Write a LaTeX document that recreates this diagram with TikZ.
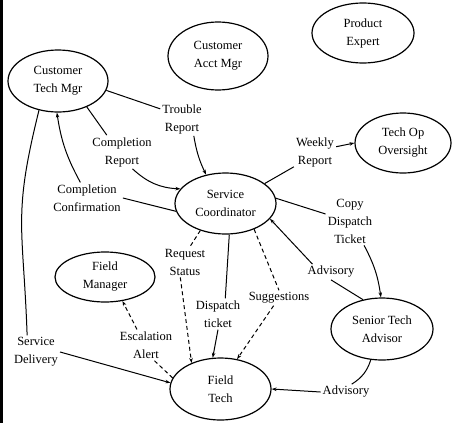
\documentclass[tikz,border=0pt]{standalone}
\usepackage{fontspec}
\setmainfont{Liberation Serif}
\usepackage{tikz}
\usetikzlibrary{shapes,arrows.meta}
\tikzset{
	role/.style      = {draw, ellipse, line width=1.2pt, inner sep=0pt, align=center},
	flowlabel/.style = {align=center, inner sep=2pt},
	msg/.style       = {line width=1pt},
	msgarrow/.style  = {-{Stealth[length=5pt,width=3.5pt]}},
	weak/.style      = {dash pattern=on 4pt off 3pt}
}

\begin{document}
\begin{tikzpicture}[x=1pt, y=-1pt, font=\fontsize{12.5}{18}\selectfont]
	\useasboundingbox (0,0) rectangle (454,423);
	\draw[line width=2.5pt] (1.25,0) -- (1.25,423);

	% roles
	\draw
	node at (58,81)    [role, minimum width=100, minimum height=62] (ctm) {Customer\\Tech Mgr}
	node at (218,56)   [role, minimum width=100, minimum height=68] (cam) {Customer\\Acct Mgr}
	node at (363,33)   [role, minimum width=102, minimum height=60] (pe)  {Product\\Expert}
	node at (403,143)  [role, minimum width=96,  minimum height=60] (too) {Tech Op\\Oversight}
	node at (225.5,203.5) [role, minimum width=101, minimum height=61] (sc) {Service\\Coordinator}
	node at (105,277)  [role, minimum width=100, minimum height=50] (fm)  {Field\\Manager}
	node at (220.5,389) [role, minimum width=101, minimum height=62] (ft) {Field\\Tech}
	node at (382,329)  [role, minimum width=102, minimum height=62] (sta) {Senior Tech\\Advisor};

	% flow labels
	\draw
	node at (182,119) [flowlabel] (trouble)  {Trouble\\Report}
	node at (122,152) [flowlabel] (comprep)  {Completion\\Report}
	node at (87,198)  [flowlabel] (compconf) {Completion\\Confirmation}
	node at (315,152) [flowlabel] (weekly)   {Weekly\\Report}
	node at (350,221) [flowlabel] (copydisp) {Copy\\Dispatch\\Ticket}
	node at (331,272) [flowlabel] (advup)    {Advisory}
	node at (279,298) [flowlabel] (sugg)     {Suggestions}
	node at (185,262) [flowlabel] (reqstat)  {Request\\Status}
	node at (218,314) [flowlabel] (disptick) {Dispatch\\ticket}
	node at (146,345) [flowlabel] (escal)    {Escalation\\Alert}
	node at (36,352)  [flowlabel] (servdel)  {Service\\Delivery}
	node at (346,392) [flowlabel] (advlow)   {Advisory};

	% flows
	\draw[msg] (ctm.-11) -- (trouble.155);
	\draw[msg,msgarrow] (trouble.-55) to[bend right=8] (sc.124);
	\draw[msg] (ctm.-42) -- (comprep.132);
	\draw[msg,msgarrow] (comprep.-58) to[bend right=20] (sc.162);
	\draw[msg] (sc.189) -- (compconf.east);
	\draw[msg,msgarrow] (compconf.113) to[bend left=10] (ctm.-92);
	\draw[msg] (ctm.-123) to[out=-104,in=92,looseness=1.25] (servdel.118);
	\draw[msg,msgarrow] (servdel.east) -- (ft.173);
	\draw[msg,weak] (ft.167) -- (escal.-62);
	\draw[msg,weak,msgarrow] (escal.120) -- (fm.-54);
	\draw[msg,weak] (sc.-133) -- (reqstat.72);
	\draw[msg,weak,msgarrow] (reqstat.-107) -- (ft.138);
	\draw[msg] (sc.-83) -- (disptick.65);
	\draw[msg,msgarrow] (disptick.south) -- (ft.104);
	\draw[msg,weak] (sc.-42) -- (sugg.north);
	\draw[msg,weak,msgarrow] (sugg.-125) -- (ft.61);
	\draw[msg] (sta.123) -- (advup.south);
	\draw[msg,msgarrow] (advup.157) -- (sc.-19);
	\draw[msg] (sc.6) -- (copydisp.164);
	\draw[msg,msgarrow] (copydisp.-60) to[bend left=10] (sta.92);
	\draw[msg] (sc.27) -- (weekly.-145);
	\draw[msg,msgarrow] (weekly.14) -- (too.west);
	\draw[msg] (sta.-110) to[bend left=20] (advlow.54);
	\draw[msg,msgarrow] (advlow.west) -- (ft.east);
\end{tikzpicture}
\end{document}
